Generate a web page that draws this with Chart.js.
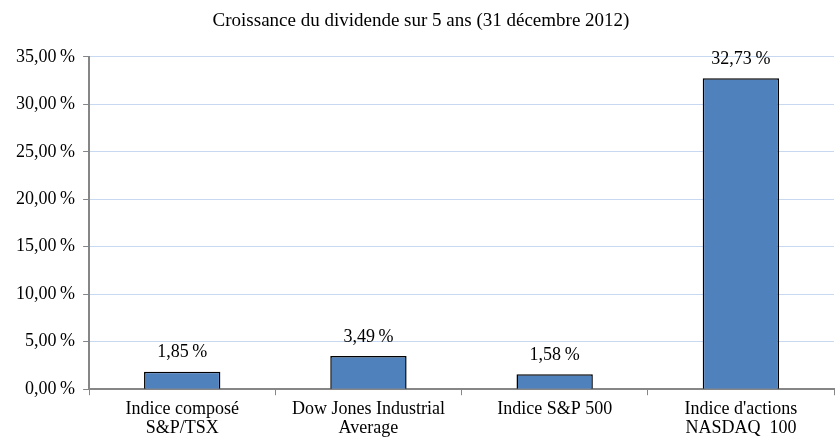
<!DOCTYPE html>
<html>
<head>
<meta charset="utf-8">
<script src="https://cdn.jsdelivr.net/npm/chart.js@4"></script>
<style>
  html, body { margin: 0; padding: 0; background: #fff; }
  #wrap { width: 835px; height: 443px; }
</style>
</head>
<body>
<div id="wrap"><canvas id="chart" width="835" height="443"></canvas></div>
<script>
const categories = [
    ["Indice composé", "S&P/TSX"],
    ["Dow Jones Industrial", "Average"],
    ["Indice S&P 500"],
    ["Indice d'actions", "NASDAQ  100"]
];
const values = [1.85, 3.49, 1.58, 32.73];
const chartTitle = "Croissance du dividende sur 5 ans (31 décembre 2012)";

const FONT = "'Liberation Serif', 'Times New Roman', serif";

function fmt(v) {
    return v.toFixed(2).replace(".", ",") + "\u2009%";
}

// Etiquettes au-dessus des barres
const barLabels = {
    id: "barLabels",
    afterDatasetsDraw(chart) {
        const ctx = chart.ctx;
        const meta = chart.getDatasetMeta(0);
        ctx.save();
        ctx.font = "18px " + FONT;
        ctx.fillStyle = "#000";
        ctx.textAlign = "center";
        ctx.textBaseline = "middle";
        meta.data.forEach((bar, i) => {
            ctx.fillText(fmt(values[i]), bar.x, bar.y - 19);
        });
        ctx.restore();
    }
};

const ctx = document.getElementById("chart").getContext("2d");
new Chart(ctx, {
    type: "bar",
    data: {
        labels: categories,
        datasets: [{
            data: values,
            backgroundColor: "#4f81bd",
            borderColor: "#000000",
            borderWidth: 1.5,
            categoryPercentage: 1,
            barPercentage: 0.41
        }]
    },
    options: {
        responsive: false,
        animation: false,
        layout: { padding: { left: 8, right: 1, top: 0, bottom: 0 } },
        plugins: {
            legend: { display: false },
            tooltip: { enabled: false },
            title: {
                display: true,
                text: chartTitle,
                color: "#000",
                font: { family: FONT, size: 19, weight: "normal", lineHeight: 1.2 },
                padding: { top: 10, bottom: 24 }
            }
        },
        scales: {
            x: {
                grid: {
                    display: true,
                    offset: true,
                    drawOnChartArea: false,
                    drawTicks: true,
                    tickLength: 6,
                    tickColor: "#868686"
                },
                border: { color: "#868686", width: 2 },
                ticks: {
                    color: "#000",
                    font: { family: FONT, size: 18, lineHeight: 1.05 },
                    padding: 5,
                    maxRotation: 0
                }
            },
            y: {
                min: 0,
                max: 35,
                ticks: {
                    stepSize: 5,
                    color: "#000",
                    font: { family: FONT, size: 18 },
                    padding: 8,
                    callback: v => fmt(v)
                },
                grid: {
                    color: "#c6d9f1",
                    tickColor: "#868686",
                    tickLength: 6
                },
                border: { color: "#868686", width: 2 }
            }
        }
    },
    plugins: [barLabels]
});
</script>
</body>
</html>
